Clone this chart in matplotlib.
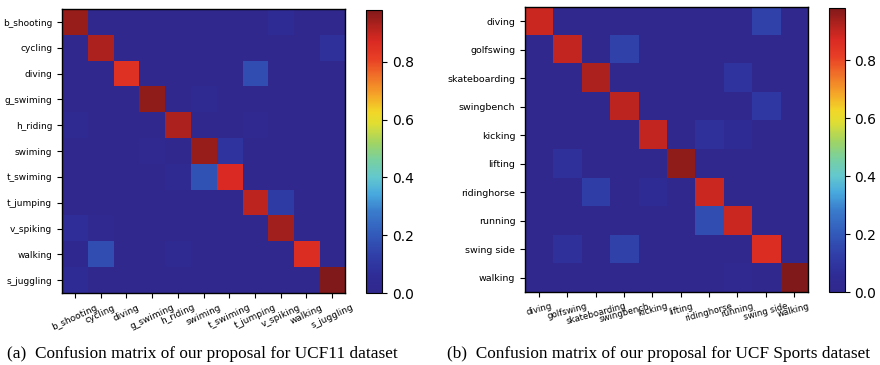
import numpy as np
import matplotlib
matplotlib.use("Agg")
import matplotlib.pyplot as plt
from matplotlib.colors import LinearSegmentedColormap

# ---- data ----
ucf11_labels = ["b_shooting", "cycling", "diving", "g_swiming", "h_riding", "swiming",
                "t_swiming", "t_jumping", "v_spiking", "walking", "s_juggling"]
ucf11_diag = [0.95, 0.93, 0.85, 0.96, 0.93, 0.95, 0.87, 0.91, 0.94, 0.86, 0.98]
# off-diagonal entries: (row, col, value)
ucf11_off = [(0, 8, 0.06), (1, 10, 0.08), (2, 7, 0.17), (3, 5, 0.04),
             (4, 0, 0.04), (4, 7, 0.03), (5, 6, 0.09), (5, 3, 0.03),
             (6, 5, 0.18), (6, 4, 0.04), (7, 8, 0.12), (8, 0, 0.07), (8, 1, 0.03),
             (9, 1, 0.17), (9, 4, 0.04), (9, 0, 0.02), (10, 0, 0.05)]

sports_labels = ["diving", "golfswing", "skateboarding", "swingbench", "kicking",
                 "lifting", "ridinghorse", "running", "swing side", "walking"]
sports_diag = [0.89, 0.90, 0.93, 0.91, 0.90, 0.96, 0.89, 0.89, 0.86, 0.98]
sports_off = [(0, 8, 0.14), (1, 3, 0.14), (2, 7, 0.09), (3, 8, 0.11),
              (4, 6, 0.08), (4, 7, 0.05), (5, 1, 0.08), (6, 2, 0.13), (6, 4, 0.05),
              (7, 6, 0.17), (8, 1, 0.08), (8, 3, 0.14), (9, 7, 0.03)]

captions = ["(a)  Confusion matrix of our proposal for UCF11 dataset",
            "(b)  Confusion matrix of our proposal for UCF Sports dataset"]


def build(diag, off):
    n = len(diag)
    m = np.zeros((n, n))
    m[np.arange(n), np.arange(n)] = diag
    for r, c, v in off:
        m[r, c] = v
    return m


# soft, slightly washed-out jet as it appears in the reference
anchors = [
    (0.00, (48, 40, 140)), (0.06, (47, 44, 150)), (0.13, (48, 62, 168)),
    (0.20, (50, 88, 185)), (0.29, (58, 125, 205)), (0.35, (72, 170, 222)),
    (0.41, (100, 200, 205)), (0.47, (120, 208, 160)), (0.53, (160, 212, 100)),
    (0.60, (225, 222, 50)), (0.64, (242, 215, 40)), (0.70, (245, 165, 40)),
    (0.77, (240, 110, 40)), (0.83, (232, 62, 38)), (0.89, (218, 42, 35)),
    (0.94, (180, 35, 30)), (1.00, (128, 25, 25)),
]
cmap = LinearSegmentedColormap.from_list(
    "softjet", [(p, tuple(v / 255 for v in c)) for p, c in anchors])

fig = plt.figure(figsize=(8.8, 3.65), dpi=100)

specs = [
    (ucf11_labels, build(ucf11_diag, ucf11_off), [0.0705, 0.197, 0.3216, 0.778],
     [0.416, 0.197, 0.018, 0.776], 25, 6.5, 6.5, 0.2295),
    (sports_labels, build(sports_diag, sports_off), [0.5966, 0.200, 0.3216, 0.781],
     [0.942, 0.200, 0.018, 0.778], 15, 6.2, 6.8, 0.7483),
]

for i, (labels, mat, axpos, cpos, rot, xfs, yfs, capx) in enumerate(specs):
    ax = fig.add_axes(axpos)
    im = ax.imshow(mat, cmap=cmap, aspect="auto", interpolation="nearest",
                   vmin=0, vmax=mat.max())
    ax.set_xticks(range(len(labels)))
    ax.set_yticks(range(len(labels)))
    ax.set_xticklabels(labels, rotation=rot, ha="center", fontsize=xfs)
    ax.set_yticklabels(labels, fontsize=yfs)
    ax.tick_params(length=3.5, width=0.8, pad=3.5)
    for s in ax.spines.values():
        s.set_linewidth(1.0)
    cax = fig.add_axes(cpos)
    cb = fig.colorbar(im, cax=cax, ticks=[0.0, 0.2, 0.4, 0.6, 0.8])
    cb.ax.tick_params(labelsize=10, length=3.5, width=0.8)
    cb.outline.set_linewidth(0.8)
    fig.text(capx, 0.03, captions[i], ha="center", va="center",
             family="Liberation Serif", fontsize=12.4)

fig.savefig("out.png", dpi=100)
